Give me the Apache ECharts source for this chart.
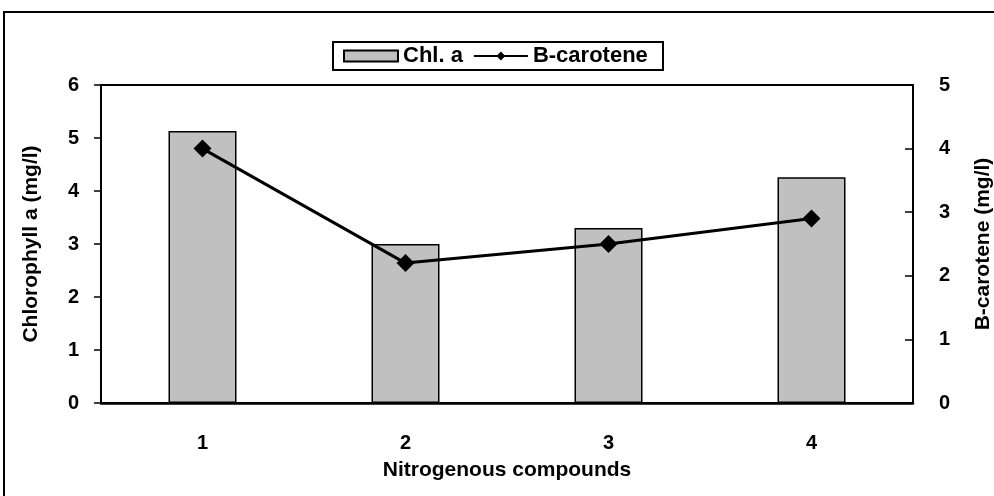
<!DOCTYPE html>
<html lang="en">
<head>
    <meta charset="UTF-8">
    <title>Chlorophyll a and B-carotene</title>
    <script src="https://cdn.jsdelivr.net/npm/echarts@6/dist/echarts.min.js"></script>
    <style>
        html, body { margin: 0; padding: 0; background: #fff; overflow: hidden; }
        #chart { width: 994px; height: 496px; }
    </style>
</head>
<body>
<div id="chart"></div>
<script type="text/javascript">
    // data
    var categories = ['1', '2', '3', '4'];
    var chlA = [5.13, 3.0, 3.3, 4.26];
    var bCarotene = [4.0, 2.2, 2.5, 2.9];

    var font = 'Liberation Sans, Arial, sans-serif';

    var myChart = echarts.init(document.getElementById('chart'));

    var option = {
        backgroundColor: '#fff',
        animation: false,
        grid: {
            left: 101, right: 81, top: 85, bottom: 93,
            outerBoundsMode: 'none',
            containLabel: false,
            show: true,
            borderColor: '#000',
            borderWidth: 2
        },
        graphic: [
            {
                type: 'rect',
                shape: { x: 4, y: 12, width: 1000, height: 500 },
                style: { fill: 'none', stroke: '#000', lineWidth: 2 },
                silent: true
            },
            {
                type: 'rect',
                shape: { x: 333, y: 42, width: 330, height: 28 },
                style: { fill: 'none', stroke: '#000', lineWidth: 2 },
                silent: true,
                z: 100
            }
        ],
        legend: {
            left: 343,
            top: 45,
            padding: 0,
            itemWidth: 54,
            itemHeight: 11,
            itemGap: 10,
            textStyle: { fontFamily: font, fontWeight: 'bold', fontSize: 22, color: '#000' },
            data: [
                { name: 'Chl. a', icon: 'rect' },
                { name: 'B-carotene' }
            ]
        },
        xAxis: {
            type: 'category',
            data: categories,
            name: 'Nitrogenous compounds',
            nameLocation: 'middle',
            nameGap: 57,
            nameTextStyle: { fontFamily: font, fontWeight: 'bold', fontSize: 21, color: '#000' },
            axisLine: { lineStyle: { color: '#000', width: 2.5 } },
            axisTick: { length: 6, lineStyle: { color: '#000', width: 1.5 } },
            axisLabel: { margin: 30, fontFamily: font, fontWeight: 'bold', fontSize: 20, color: '#000' }
        },
        yAxis: [
            {
                type: 'value',
                min: 0, max: 6, interval: 1,
                name: 'Chlorophyll a (mg/l)',
                nameLocation: 'middle',
                nameGap: 59,
                nameTextStyle: { fontFamily: font, fontWeight: 'bold', fontSize: 21, color: '#000' },
                axisLine: { show: true, lineStyle: { color: '#000', width: 1.5 } },
                axisTick: { show: true, length: 7, lineStyle: { color: '#000', width: 1.5 } },
                axisLabel: { margin: 22, fontFamily: font, fontWeight: 'bold', fontSize: 20, color: '#000' },
                splitLine: { show: false }
            },
            {
                type: 'value',
                min: 0, max: 5, interval: 1,
                name: 'B-carotene (mg/l)',
                nameLocation: 'middle',
                nameGap: 60,
                nameTextStyle: { fontFamily: font, fontWeight: 'bold', fontSize: 21, color: '#000' },
                axisLine: { show: true, lineStyle: { color: '#000', width: 1.5 } },
                axisTick: { show: true, inside: true, length: 8, lineStyle: { color: '#000', width: 1.5 } },
                axisLabel: { margin: 26, fontFamily: font, fontWeight: 'bold', fontSize: 20, color: '#000' },
                splitLine: { show: false }
            }
        ],
        series: [
            {
                name: 'Chl. a',
                type: 'bar',
                yAxisIndex: 0,
                barWidth: 68,
                data: chlA,
                itemStyle: { color: '#c0c0c0', borderColor: '#000', borderWidth: 1.5 }
            },
            {
                name: 'B-carotene',
                type: 'line',
                yAxisIndex: 1,
                data: bCarotene,
                symbol: 'diamond',
                symbolSize: 18,
                lineStyle: { color: '#000', width: 3 },
                itemStyle: { color: '#000' },
                z: 5
            }
        ]
    };

    myChart.setOption(option);
</script>
</body>
</html>
